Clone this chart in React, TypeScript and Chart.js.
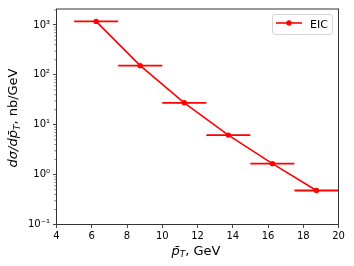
import React, { useEffect, useRef } from "react";
import { Chart, registerables } from "chart.js";

Chart.register(...registerables);

// ---- data ----
const ptCenters = [6.25, 8.75, 11.25, 13.75, 16.25, 18.75];
const ptHalfWidths = [1.25, 1.25, 1.25, 1.25, 1.25, 1.25];
const dSigma = [1180, 153, 27.5, 6.2, 1.66, 0.48];
const seriesLabel = "EIC";
const xTickValues = [4, 6, 8, 10, 12, 14, 16, 18, 20];
const yMajorTicks = [0.1, 1, 10, 100, 1000];
const yTickLabels = ["10\u207B\u00B9", "10\u2070", "10\u00B9", "10\u00B2", "10\u00B3"];
const yMinorTicks = [
  0.2, 0.3, 0.4, 0.5, 0.6, 0.7, 0.8, 0.9,
  2, 3, 4, 5, 6, 7, 8, 9,
  20, 30, 40, 50, 60, 70, 80, 90,
  200, 300, 400, 500, 600, 700, 800, 900,
  2000,
];
const xMin = 4;
const xMax = 20;
const yMin = 0.1;
const yMax = 2090;

const FONT = "DejaVu Sans";
const RED = "#ff0000";
const AXIS = "#333333";

type Part = { t: string; font: string; dy?: number };

function drawParts(ctx: CanvasRenderingContext2D, parts: Part[], cx: number) {
  let total = 0;
  const widths = parts.map((p) => {
    ctx.font = p.font;
    const w = ctx.measureText(p.t).width;
    total += w;
    return w;
  });
  let x = cx - total / 2;
  parts.forEach((p, i) => {
    ctx.font = p.font;
    ctx.fillText(p.t, x, p.dy || 0);
    x += widths[i];
  });
}

const framePlugin = {
  id: "frame",
  afterDatasetsDraw(chart: any) {
    const { ctx, chartArea } = chart;
    const { left, right, top, bottom } = chartArea;
    const yScale = chart.scales.y;
    ctx.save();
    // minor ticks
    ctx.strokeStyle = AXIS;
    ctx.lineWidth = 0.6;
    yMinorTicks.forEach((v) => {
      if (v < yMin || v > yMax) return;
      const py = yScale.getPixelForValue(v);
      ctx.beginPath();
      ctx.moveTo(left - 2.2, py);
      ctx.lineTo(left, py);
      ctx.stroke();
    });
    // spines
    ctx.lineWidth = 1;
    ctx.strokeStyle = AXIS;
    ctx.strokeRect(left, top, right - left, bottom - top);

    // legend
    const ds = chart.data.datasets[0];
    const lx = 272.5, ly = 14.5, lw = 60, lh = 20;
    ctx.beginPath();
    const r = 2.5;
    ctx.moveTo(lx + r, ly);
    ctx.lineTo(lx + lw - r, ly);
    ctx.quadraticCurveTo(lx + lw, ly, lx + lw, ly + r);
    ctx.lineTo(lx + lw, ly + lh - r);
    ctx.quadraticCurveTo(lx + lw, ly + lh, lx + lw - r, ly + lh);
    ctx.lineTo(lx + r, ly + lh);
    ctx.quadraticCurveTo(lx, ly + lh, lx, ly + lh - r);
    ctx.lineTo(lx, ly + r);
    ctx.quadraticCurveTo(lx, ly, lx + r, ly);
    ctx.closePath();
    ctx.fillStyle = "rgba(255,255,255,0.8)";
    ctx.fill();
    ctx.strokeStyle = "#d6d6d6";
    ctx.lineWidth = 1;
    ctx.stroke();
    ctx.strokeStyle = ds.borderColor;
    ctx.lineWidth = 1.6;
    ctx.beginPath();
    ctx.moveTo(276, 23);
    ctx.lineTo(302, 23);
    ctx.stroke();
    ctx.fillStyle = ds.borderColor;
    ctx.beginPath();
    ctx.arc(289, 23, 2.7, 0, Math.PI * 2);
    ctx.fill();
    ctx.fillStyle = "#000";
    ctx.font = `11px "${FONT}"`;
    ctx.textBaseline = "alphabetic";
    ctx.textAlign = "left";
    ctx.fillText(ds.label, 310, 27.5);

    // axis titles
    ctx.fillStyle = "#000";
    ctx.textAlign = "left";
    ctx.textBaseline = "alphabetic";
    const big = `13px "${FONT}"`;
    const bigI = `italic 13px "${FONT}"`;
    const subI = `italic 9px "${FONT}"`;
    ctx.save();
    ctx.translate(0, 254.5);
    drawParts(
      ctx,
      [
        { t: "p\u0304", font: bigI },
        { t: "T", font: subI, dy: 2.5 },
        { t: ", GeV", font: big },
      ],
      196
    );
    ctx.restore();
    ctx.save();
    ctx.translate(17, 118);
    ctx.rotate(-Math.PI / 2);
    drawParts(
      ctx,
      [
        { t: "d\u03C3/dp\u0304", font: bigI },
        { t: "T", font: subI, dy: 2.5 },
        { t: ", nb/GeV", font: big },
      ],
      0
    );
    ctx.restore();
    ctx.restore();
  },
};

export default function App() {
  const ref = useRef<HTMLCanvasElement | null>(null);
  useEffect(() => {
    if (!ref.current) return;
    const mainData = ptCenters.map((x, i) => ({ x, y: dSigma[i] }));
    const errData: any[] = [];
    ptCenters.forEach((x, i) => {
      errData.push({ x: x - ptHalfWidths[i], y: dSigma[i] });
      errData.push({ x: x + ptHalfWidths[i], y: dSigma[i] });
      errData.push({ x: x + ptHalfWidths[i], y: null });
    });
    const chart = new Chart(ref.current, {
      type: "line",
      data: {
        datasets: [
          {
            label: seriesLabel,
            data: mainData,
            borderColor: RED,
            backgroundColor: RED,
            borderWidth: 1.6,
            pointRadius: 2.7,
            pointBackgroundColor: RED,
            pointBorderWidth: 0,
            pointHoverRadius: 2.7,
            tension: 0,
            fill: false,
          },
          {
            label: seriesLabel + " xerr",
            data: errData,
            borderColor: RED,
            borderWidth: 1.8,
            pointRadius: 0,
            spanGaps: false,
            tension: 0,
            fill: false,
          },
        ],
      },
      options: {
        animation: false,
        responsive: false,
        devicePixelRatio: 1,
        layout: { padding: { top: 8.5, right: 15.5, left: 0, bottom: 0 } },
        plugins: {
          legend: { display: false },
          tooltip: { enabled: false },
        },
        events: [],
        scales: {
          x: {
            type: "linear",
            min: xMin,
            max: xMax,
            afterBuildTicks: (s: any) => {
              s.ticks = xTickValues.map((v) => ({ value: v }));
            },
            afterFit: (s: any) => {
              s.height = 41.5;
            },
            grid: {
              drawOnChartArea: false,
              drawTicks: true,
              tickLength: 3.5,
              tickColor: AXIS,
              tickWidth: 0.9,
            },
            border: { display: false },
            ticks: {
              color: "#000",
              font: { family: FONT, size: 10 },
              padding: 2,
              maxRotation: 0,
              autoSkip: false,
            },
          },
          y: {
            type: "logarithmic",
            min: yMin,
            max: yMax,
            afterBuildTicks: (s: any) => {
              s.ticks = yMajorTicks.map((v) => ({ value: v }));
            },
            afterFit: (s: any) => {
              s.width = 56.5;
            },
            grid: {
              drawOnChartArea: false,
              drawTicks: true,
              tickLength: 3.5,
              tickColor: AXIS,
              tickWidth: 0.9,
            },
            border: { display: false },
            ticks: {
              color: "#000",
              font: { family: FONT, size: 10 },
              padding: 3,
              autoSkip: false,
              callback: (_v: any, i: number) => yTickLabels[i],
            },
          },
        },
      },
      plugins: [framePlugin],
    } as any);
    return () => chart.destroy();
  }, []);
  return (
    <div style={{ position: "absolute", left: 0, top: 0, width: 354, height: 266, background: "#fff" }}>
      <canvas ref={ref} width={354} height={266} style={{ width: 354, height: 266 }} />
    </div>
  );
}
